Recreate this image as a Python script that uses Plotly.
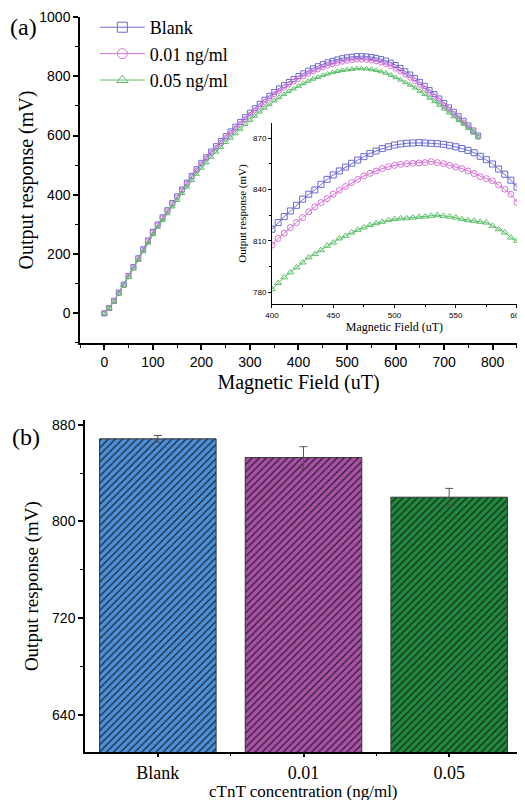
import plotly.graph_objects as go

# ---------------- Panel (a): main curves ----------------
field_main = [0, 10, 20, 30, 40, 50, 60, 70, 80, 90,
              100, 110, 120, 130, 140, 150, 160, 170, 180, 190,
              200, 210, 220, 230, 240, 250, 260, 270, 280, 290,
              300, 310, 320, 330, 340, 350, 360, 370, 380, 390,
              400, 410, 420, 430, 440, 450, 460, 470, 480, 490,
              500, 510, 520, 530, 540, 550, 560, 570, 580, 590,
              600, 610, 620, 630, 640, 650, 660, 670, 680, 690,
              700, 710, 720, 730, 740, 750, 760, 770]

blank_main = [0, 18, 42, 70, 97, 126, 156, 186, 216, 246,
              275, 300, 324, 348, 372, 395, 418, 441, 464, 486,
              508, 527, 546, 564, 581, 598, 614, 630, 646, 662,
              677, 692, 707, 721, 734, 747, 759, 770, 781, 791,
              801, 810, 819, 827, 834, 841, 847, 852, 857, 861,
              864, 866, 868, 868, 867, 865, 862, 858, 853, 846,
              838, 828, 817, 806, 794, 781, 768, 754, 740, 725,
              710, 695, 680, 665, 650, 634, 617, 600]

c001_main = [0, 18, 42, 69, 96, 125, 155, 184, 214, 244,
             273, 297, 321, 345, 369, 391, 414, 437, 460, 481,
             503, 522, 541, 558, 575, 592, 608, 624, 639, 655,
             670, 685, 699, 713, 726, 739, 750, 761, 772, 782,
             791, 800, 809, 817, 823, 830, 836, 841, 845, 849,
             852, 854, 856, 856, 855, 853, 850, 846, 841, 834,
             826, 816, 806, 795, 784, 771, 758, 745, 731, 717,
             702, 688, 673, 658, 644, 628, 612, 595]

c005_main = [0, 17, 40, 67, 94, 122, 151, 180, 209, 238,
             267, 291, 314, 337, 360, 382, 405, 427, 449, 470,
             491, 509, 528, 545, 561, 577, 592, 607, 622, 638,
             652, 666, 680, 693, 705, 718, 729, 739, 749, 758,
             767, 776, 784, 791, 797, 803, 808, 813, 817, 820,
             822, 824, 826, 826, 825, 823, 820, 816, 811, 804,
             796, 788, 779, 771, 761, 750, 739, 727, 715, 703,
             690, 677, 664, 651, 639, 625, 610, 595]

# ---------------- Panel (a): inset ----------------
field_inset = [400, 405, 410, 415, 420, 425, 430, 435, 440, 445,
               450, 455, 460, 465, 470, 475, 480, 485, 490, 495,
               500, 505, 510, 515, 520, 525, 530, 535, 540, 545,
               550, 555, 560, 565, 570, 575, 580, 585, 590, 595, 600]

blank_inset = [816.8, 820.7, 824.2, 827.5, 830.8, 834.4, 837.3, 839.8, 843.1, 846.0,
               848.6, 850.9, 853.2, 855.4, 857.3, 859.3, 861.2, 862.6, 864.0, 865.1,
               866.1, 866.7, 867.1, 867.3, 867.5, 867.3, 867.1, 866.9, 866.5, 865.9,
               865.1, 864.0, 863.0, 861.6, 859.5, 857.5, 855.0, 852.0, 849.0, 845.5, 841.5]

c001_inset = [807.5, 811.4, 814.5, 817.8, 820.7, 823.6, 827.0, 829.9, 832.4, 834.7,
              837.3, 839.6, 841.8, 844.1, 846.0, 848.0, 849.5, 850.9, 852.3, 853.4,
              854.2, 854.8, 855.2, 855.4, 855.6, 855.8, 856.4, 855.8, 855.2, 854.2,
              853.2, 852.3, 850.9, 849.4, 847.6, 846.4, 845.1, 842.7, 840.2, 837.3, 832.4]

c005_inset = [781.7, 785.3, 788.6, 791.5, 794.4, 797.3, 800.3, 802.2, 804.5, 807.1,
              809.0, 811.4, 812.9, 814.9, 816.4, 817.8, 819.2, 820.3, 821.1, 822.1,
              822.7, 823.1, 823.2, 823.6, 824.0, 824.2, 824.6, 825.0, 824.6, 824.2,
              823.6, 822.7, 822.1, 821.7, 821.1, 820.7, 818.8, 816.8, 814.9, 811.9, 810.0]

series_names = ["Blank", "0.01 ng/ml", "0.05 ng/ml"]

# ---------------- Panel (b): bars ----------------
categories = ["Blank", "0.01", "0.05"]
bar_values = [868.4, 852.9, 820.1]
bar_errors = [2.8, 9.0, 7.3]

# ---------------- styles ----------------
line_colors = ["#6a6ad6", "#d672d6", "#5cbf6a"]
symbols = ["square-open", "circle-open", "triangle-up-open"]
bar_colors = ["#4a8fd8", "#a84fa8", "#1f8a3e"]
SERIF = "Liberation Serif"
SANS = "Liberation Sans"

fig = go.Figure()

main_sets = [blank_main, c001_main, c005_main]
inset_sets = [blank_inset, c001_inset, c005_inset]

for name, ys, col, sym in zip(series_names, main_sets, line_colors, symbols):
    fig.add_trace(go.Scatter(
        x=field_main, y=ys, name=name, mode="lines+markers",
        line=dict(color=col, width=1),
        marker=dict(symbol=sym, size=5, color=col, line=dict(width=1, color=col)),
        xaxis="x", yaxis="y", showlegend=False))

# legend entries (larger symbols, as in the original legend)
for name, col, sym in zip(series_names, line_colors, symbols):
    fig.add_trace(go.Scatter(
        x=[None], y=[None], name=name, mode="lines+markers",
        line=dict(color=col, width=1),
        marker=dict(symbol=sym, size=10, color=col, line=dict(width=1, color=col)),
        xaxis="x", yaxis="y", showlegend=True))

for name, ys, col, sym in zip(series_names, inset_sets, line_colors, symbols):
    fig.add_trace(go.Scatter(
        x=field_inset, y=ys, name=name, mode="lines+markers",
        line=dict(color=col, width=1),
        marker=dict(symbol=sym, size=6, color=col, line=dict(width=1, color=col)),
        xaxis="x2", yaxis="y2", showlegend=False))

cat_pos = list(range(len(categories)))
for pos, cat, val, err, col in zip(cat_pos, categories, bar_values, bar_errors, bar_colors):
    fig.add_trace(go.Bar(
        x=[pos], y=[val], width=0.8, name=cat,
        marker=dict(color=col, line=dict(color="#333333", width=1),
                    pattern=dict(shape="/", fgcolor="#1a1a1a", bgcolor=col, size=5,
                                 solidity=0.25, fillmode="overlay", fgopacity=0.9)),
        error_y=dict(type="data", array=[err], visible=True, color="#555555",
                     thickness=1, width=4),
        xaxis="x3", yaxis="y3", showlegend=False))

axis_common = dict(showline=True, linecolor="black", linewidth=1.5, ticks="outside",
                   tickcolor="black", tickwidth=1.5, showgrid=False, zeroline=False,
                   automargin=False, mirror=False)

fig.update_layout(
    width=517, height=792,
    margin=dict(l=0, r=0, t=0, b=0),
    paper_bgcolor="white", plot_bgcolor="rgba(0,0,0,0)",
    font=dict(family=SANS, color="black"),
    barmode="overlay",
    xaxis=dict(domain=[0.1393, 0.9845], anchor="y", range=[-50, 850], tick0=0, dtick=100,
               ticklen=5, tickfont=dict(family=SANS, size=14),
               minor=dict(dtick=50, ticks="outside", ticklen=3, tickcolor="black", tickwidth=1.2),
               title=dict(text="Magnetic Field (uT)", font=dict(family=SERIF, size=20), standoff=6),
               **axis_common),
    yaxis=dict(domain=[0.57702, 0.98864], anchor="x", range=[-100, 1000], tick0=0, dtick=200,
               ticklen=5, tickfont=dict(family=SANS, size=14),
               minor=dict(dtick=100, ticks="outside", ticklen=3, tickcolor="black", tickwidth=1.2),
               title=dict(text="Output response (mV)", font=dict(family=SERIF, size=20), standoff=0),
               **axis_common),
    xaxis2=dict(domain=[0.5106, 0.9845], anchor="y2", range=[400, 600], tick0=400, dtick=50,
                ticklen=3, tickfont=dict(family=SANS, size=8),
                minor=dict(dtick=25, ticks="outside", ticklen=2, tickcolor="black", tickwidth=1),
                title=dict(text="Magnetic Field (uT)", font=dict(family=SERIF, size=12), standoff=0),
                **{**axis_common, "linewidth": 1, "tickwidth": 1}),
    yaxis2=dict(domain=[0.62626, 0.85480], anchor="x2", range=[773, 879], tick0=780, dtick=30,
                ticklen=3, tickfont=dict(family=SANS, size=8),
                minor=dict(dtick=15, ticks="outside", ticklen=2, tickcolor="black", tickwidth=1),
                title=dict(text="Output response (mV)", font=dict(family=SERIF, size=11), standoff=4),
                **{**axis_common, "linewidth": 1, "tickwidth": 1}),
    xaxis3=dict(domain=[0.14894, 0.99420], anchor="y3", range=[-0.5, 2.5],
                tickvals=cat_pos, ticktext=categories, ticklen=3,
                tickfont=dict(family=SERIF, size=18),
                minor=dict(tickvals=[0.5, 1.5, 2.5], ticks="outside", ticklen=2,
                           tickcolor="black", tickwidth=1.2),
                **axis_common),
    yaxis3=dict(domain=[0.06023, 0.47980], anchor="x3", range=[609, 884], tick0=640, dtick=80,
                ticklen=5, tickfont=dict(family=SANS, size=14),
                minor=dict(dtick=40, ticks="outside", ticklen=3, tickcolor="black", tickwidth=1.2),
                title=dict(text="Output response (mV)", font=dict(family=SERIF, size=19), standoff=8),
                **axis_common),
    legend=dict(x=0.168, y=0.9987, xanchor="left", yanchor="top", bgcolor="rgba(0,0,0,0)",
                font=dict(family=SERIF, size=18), itemwidth=45, tracegroupgap=0),
    annotations=[
        dict(text="(a)", x=0.0, y=0.976, xref="paper", yref="paper", xanchor="left",
             yanchor="middle", showarrow=False, font=dict(family=SERIF, size=24)),
        dict(text="(b)", x=0.004, y=0.4583, xref="paper", yref="paper", xanchor="left",
             yanchor="middle", showarrow=False, font=dict(family=SERIF, size=24)),
        dict(text="cTnT concentration (ng/ml)", x=0.5716, y=-0.004, xref="paper", yref="paper",
             xanchor="center", yanchor="bottom", showarrow=False,
             font=dict(family=SERIF, size=17)),
    ],
)

fig.write_html("out.html")
